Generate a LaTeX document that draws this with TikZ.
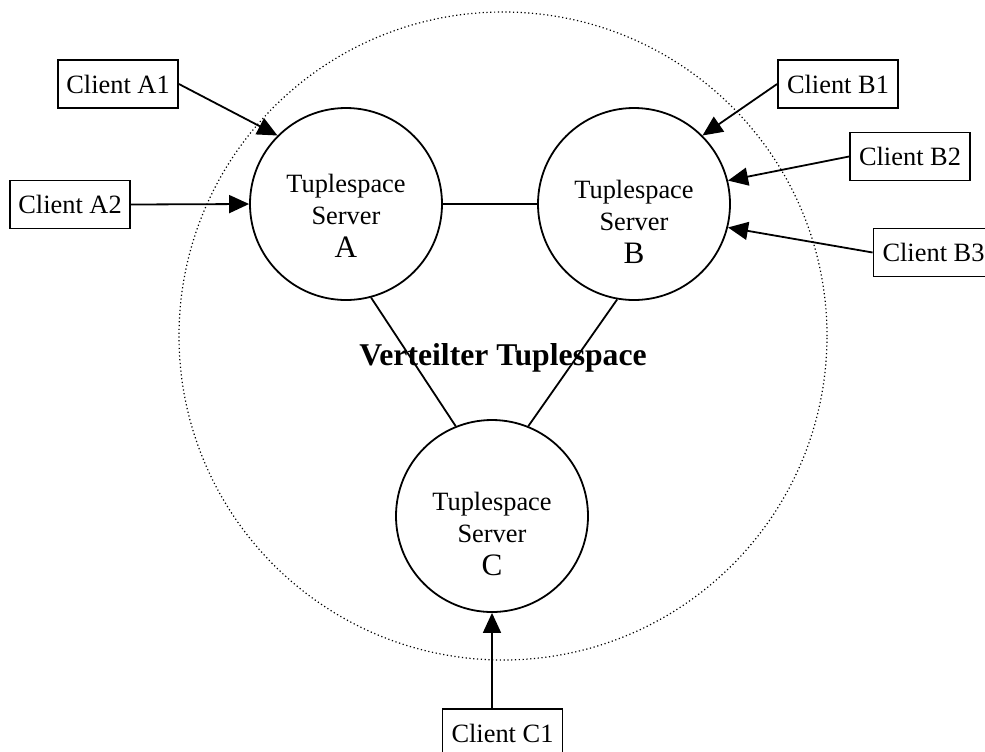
\documentclass[tikz,border=0pt]{standalone}
\usepackage{fontspec}
\setmainfont{Liberation Serif}
\usetikzlibrary{arrows.meta}
\begin{document}
\begin{tikzpicture}[x=0.5pt,y=-0.5pt,
  server/.style={circle,draw,line width=0.9pt,minimum size=96pt,inner sep=0pt},
  stext/.style={align=center,font=\fontsize{13.2}{16}\selectfont,inner sep=0pt},
  client/.style={rectangle,draw,line width=0.9pt,minimum width=60pt,minimum height=24pt,inner sep=0pt,font=\fontsize{13.2}{16}\selectfont},
  arr/.style={line width=0.9pt,-{Triangle[length=10pt,width=9pt]}},
  link/.style={line width=0.9pt}]
\useasboundingbox (0,0) rectangle (985,751);
\clip (0,0) rectangle (985,751);
% distributed tuplespace
\draw[line width=0.6pt,dash pattern=on 0.6pt off 1.3pt] (503,336) circle [radius=162pt];
\node[font=\bfseries\fontsize{15.85}{18}\selectfont,inner sep=0pt] (title) at (503,358) {Verteilter Tuplespace};
% servers
\node[server] (A) at (346,204) {};
\node[server] (B) at (634,204) {};
\node[server] (C) at (492,516) {};
\node[stext] (At) at (346,216) {Tuplespace\\Server\\[0.8pt]{\fontsize{15.6}{16}\selectfont A}};
\node[stext] (Bt) at (634,222) {Tuplespace\\Server\\[0.8pt]{\fontsize{15.6}{16}\selectfont B}};
\node[stext] (Ct) at (492,534) {Tuplespace\\Server\\[0.8pt]{\fontsize{15.6}{16}\selectfont C}};
% clients
\node[client] (A1) at (118,84) {Client A1};
\node[client] (A2) at (70,204.5) {Client A2};
\node[client] (B1) at (838,84) {Client B1};
\node[client] (B2) at (910,156.5) {Client B2};
\node[client] (B3) at (933.5,252.5) {Client B3};
\node[client] (C1) at (502.5,733) {Client C1};
% links
\draw[link] (A.east) -- (B.west);
\draw[link] (A.-75) -- (C.112);
\draw[link] (B.-100) -- (C.68);
% client arrows
\draw[arr] (A1.east) -- (A.135);
\draw[arr] (A2.east) -- (A.west);
\draw[arr] (B1.west) -- (B.45);
\draw[arr] (B2.west) -- (B.14);
\draw[arr] (B3.west) -- (B.-14);
\draw[arr] (C1.north -| C.south) -- (C.south);
\end{tikzpicture}
\end{document}
